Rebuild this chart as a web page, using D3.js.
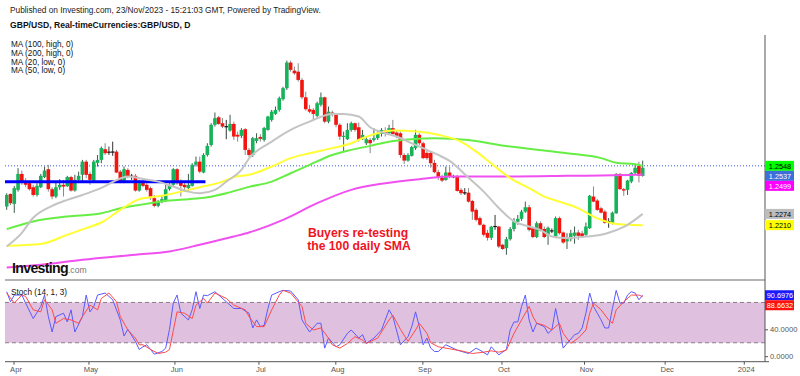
<!DOCTYPE html>
<html>
<head>
<meta charset="utf-8">
<script src="https://cdn.jsdelivr.net/npm/d3@7"></script>
<style>
  body { margin: 0; background: #fff; }
  svg { font-family: "Liberation Sans", Arial, sans-serif; }
</style>
</head>
<body>
<svg id="chart" width="800" height="376"></svg>
<script>
// daily GBP/USD candles, [open, high, low, close]
var ohlc = [
[1.2316,1.2392,1.2297,1.2382],[1.2388,1.2390,1.2325,1.2335],[1.2331,1.2434,1.2280,1.2421],[1.2411,1.2535,1.2401,1.2502],
[1.2502,1.2521,1.2440,1.2458],[1.2458,1.2478,1.2426,1.2440],[1.2449,1.2453,1.2407,1.2415],[1.2426,1.2440,1.2373,1.2382],
[1.2382,1.2449,1.2373,1.2434],[1.2426,1.2502,1.2421,1.2491],[1.2484,1.2544,1.2478,1.2521],[1.2529,1.2554,1.2401,1.2415],
[1.2415,1.2426,1.2358,1.2373],[1.2373,1.2453,1.2364,1.2426],[1.2426,1.2472,1.2411,1.2440],[1.2440,1.2468,1.2373,1.2430],
[1.2432,1.2491,1.2428,1.2484],[1.2484,1.2491,1.2401,1.2407],[1.2407,1.2497,1.2401,1.2468],[1.2468,1.2515,1.2458,1.2491],
[1.2497,1.2582,1.2458,1.2572],[1.2572,1.2582,1.2478,1.2497],[1.2502,1.2515,1.2440,1.2468],[1.2464,1.2582,1.2458,1.2572],
[1.2565,1.2610,1.2544,1.2582],[1.2582,1.2658,1.2563,1.2649],[1.2643,1.2677,1.2610,1.2620],[1.2625,1.2658,1.2610,1.2627],
[1.2625,1.2686,1.2605,1.2628],[1.2629,1.2639,1.2506,1.2510],[1.2515,1.2525,1.2449,1.2458],[1.2458,1.2544,1.2449,1.2529],
[1.2525,1.2535,1.2478,1.2487],[1.2487,1.2502,1.2468,1.2490],[1.2491,1.2502,1.2401,1.2407],[1.2407,1.2468,1.2401,1.2449],
[1.2453,1.2468,1.2426,1.2434],[1.2440,1.2449,1.2401,1.2411],[1.2421,1.2430,1.2354,1.2364],[1.2364,1.2382,1.2312,1.2320],
[1.2320,1.2354,1.2312,1.2344],[1.2344,1.2382,1.2335,1.2358],[1.2354,1.2440,1.2344,1.2415],[1.2415,1.2449,1.2407,1.2440],
[1.2440,1.2535,1.2430,1.2529],[1.2529,1.2535,1.2440,1.2449],[1.2458,1.2472,1.2373,1.2434],[1.2440,1.2458,1.2401,1.2426],
[1.2421,1.2502,1.2401,1.2440],[1.2434,1.2563,1.2430,1.2554],[1.2554,1.2601,1.2544,1.2572],[1.2572,1.2601,1.2506,1.2515],
[1.2510,1.2620,1.2506,1.2610],[1.2610,1.2677,1.2601,1.2662],[1.2667,1.2791,1.2658,1.2782],[1.2782,1.2852,1.2772,1.2820],
[1.2825,1.2833,1.2782,1.2787],[1.2791,1.2820,1.2763,1.2772],[1.2772,1.2810,1.2700,1.2770],[1.2749,1.2839,1.2743,1.2787],
[1.2787,1.2800,1.2696,1.2715],[1.2725,1.2743,1.2686,1.2715],[1.2719,1.2763,1.2706,1.2753],[1.2757,1.2763,1.2610,1.2639],
[1.2639,1.2650,1.2599,1.2610],[1.2610,1.2713,1.2599,1.2706],[1.2690,1.2734,1.2677,1.2706],[1.2713,1.2728,1.2686,1.2702],
[1.2696,1.2770,1.2686,1.2764],[1.2753,1.2833,1.2749,1.2829],[1.2810,1.2867,1.2800,1.2857],[1.2844,1.2886,1.2839,1.2867],
[1.2867,1.2943,1.2857,1.2934],[1.2928,1.2999,1.2920,1.2991],[1.2991,1.3148,1.2981,1.3137],[1.3137,1.3148,1.3085,1.3095],
[1.3091,1.3114,1.3067,1.3076],[1.3085,1.3133,1.3028,1.3038],[1.3038,1.3048,1.2928,1.2939],[1.2939,1.2971,1.2863,1.2871],
[1.2871,1.2896,1.2848,1.2857],[1.2867,1.2877,1.2810,1.2844],[1.2833,1.2914,1.2825,1.2905],[1.2896,1.2966,1.2886,1.2939],
[1.2939,1.2943,1.2791,1.2800],[1.2800,1.2886,1.2791,1.2857],[1.2852,1.2863,1.2829,1.2839],[1.2844,1.2848,1.2768,1.2782],
[1.2782,1.2791,1.2696,1.2715],[1.2713,1.2743,1.2629,1.2719],[1.2700,1.2791,1.2696,1.2753],[1.2753,1.2800,1.2743,1.2791],
[1.2791,1.2795,1.2743,1.2753],[1.2768,1.2795,1.2686,1.2696],[1.2700,1.2753,1.2696,1.2725],[1.2677,1.2715,1.2667,1.2700],
[1.2696,1.2706,1.2620,1.2677],[1.2696,1.2763,1.2686,1.2706],[1.2706,1.2753,1.2696,1.2734],[1.2730,1.2763,1.2715,1.2753],
[1.2749,1.2768,1.2715,1.2730],[1.2734,1.2782,1.2725,1.2763],[1.2763,1.2810,1.2725,1.2730],[1.2738,1.2749,1.2706,1.2715],
[1.2734,1.2743,1.2594,1.2610],[1.2610,1.2620,1.2559,1.2578],[1.2578,1.2620,1.2572,1.2610],[1.2605,1.2662,1.2601,1.2655],
[1.2649,1.2753,1.2639,1.2725],[1.2725,1.2734,1.2667,1.2677],[1.2677,1.2686,1.2586,1.2592],[1.2622,1.2639,1.2582,1.2592],
[1.2622,1.2629,1.2537,1.2563],[1.2565,1.2582,1.2506,1.2512],[1.2512,1.2525,1.2468,1.2480],[1.2480,1.2497,1.2455,1.2464],
[1.2468,1.2544,1.2463,1.2510],[1.2510,1.2544,1.2478,1.2487],[1.2487,1.2497,1.2478,1.2486],[1.2486,1.2497,1.2401,1.2405],
[1.2411,1.2421,1.2382,1.2392],[1.2393,1.2421,1.2382,1.2395],[1.2395,1.2421,1.2338,1.2344],[1.2348,1.2354,1.2240,1.2287],
[1.2297,1.2306,1.2231,1.2240],[1.2250,1.2259,1.2206,1.2212],[1.2212,1.2218,1.2145,1.2155],[1.2166,1.2183,1.2122,1.2138],
[1.2138,1.2206,1.2126,1.2201],[1.2201,1.2268,1.2183,1.2203],[1.2202,1.2206,1.2079,1.2088],[1.2098,1.2104,1.2069,1.2074],
[1.2079,1.2143,1.2041,1.2130],[1.2130,1.2199,1.2122,1.2188],[1.2188,1.2250,1.2174,1.2234],[1.2229,1.2268,1.2212,1.2246],
[1.2246,1.2297,1.2234,1.2287],[1.2287,1.2344,1.2280,1.2312],[1.2312,1.2325,1.2174,1.2183],[1.2193,1.2202,1.2136,1.2142],
[1.2142,1.2231,1.2136,1.2221],[1.2221,1.2231,1.2174,1.2179],[1.2188,1.2202,1.2136,1.2142],[1.2149,1.2202,1.2098,1.2195],
[1.2178,1.2191,1.2164,1.2176],[1.2145,1.2259,1.2136,1.2250],[1.2250,1.2259,1.2155,1.2164],[1.2168,1.2174,1.2104,1.2111],
[1.2117,1.2164,1.2074,1.2130],[1.2130,1.2183,1.2117,1.2164],[1.2149,1.2202,1.2104,1.2168],[1.2168,1.2183,1.2126,1.2149],
[1.2163,1.2178,1.2138,1.2146],[1.2155,1.2225,1.2145,1.2202],[1.2193,1.2382,1.2188,1.2377],[1.2373,1.2430,1.2341,1.2344],
[1.2350,1.2359,1.2291,1.2297],[1.2306,1.2314,1.2277,1.2281],[1.2287,1.2297,1.2218,1.2223],[1.2231,1.2250,1.2195,1.2229],
[1.2221,1.2287,1.2214,1.2281],[1.2278,1.2506,1.2274,1.2502],[1.2502,1.2506,1.2411,1.2415],[1.2415,1.2422,1.2377,1.2407],
[1.2411,1.2468,1.2382,1.2464],[1.2458,1.2512,1.2449,1.2508],[1.2508,1.2554,1.2497,1.2537],[1.2548,1.2572,1.2453,1.2491],
[1.2491,1.2578,1.2487,1.2537]
];

// moving averages, [bar, value]
var ma20low = [[0,1.2088],[4,1.2166],[7,1.2252],[12,1.2320],[16,1.2354],[20,1.2382],[25,1.2422],[28,1.2456],[32,1.2487],
  [36,1.2473],[40,1.2458],[44,1.2430],[48,1.2401],[51,1.2392],[55,1.2411],[58,1.2458],[62,1.2525],[64,1.2590],[70,1.2686],
  [75,1.2753],[80,1.2800],[86,1.2844],[89,1.2844],[93,1.2829],[96,1.2768],[100,1.2734],[103,1.2715],[107,1.2677],[110,1.2649],
  [114,1.2610],[117,1.2576],[122,1.2480],[126,1.2401],[130,1.2308],[134,1.2231],[138,1.2202],[141,1.2183],[144,1.2145],
  [148,1.2136],[153,1.2145],[157,1.2155],[160,1.2174],[164,1.2212],[168,1.2274]];
var ma50low = [[0,1.2093],[9,1.2103],[16,1.2155],[21,1.2193],[25,1.2225],[30,1.2297],[35,1.2358],[41,1.2377],[46,1.2401],
  [51,1.2426],[57,1.2458],[60,1.2484],[64,1.2497],[70,1.2544],[75,1.2592],[80,1.2620],[86,1.2649],[91,1.2677],[94,1.2706],
  [98,1.2734],[102,1.2749],[109,1.2743],[114,1.2725],[120,1.2686],[124,1.2629],[129,1.2544],[133,1.2478],[138,1.2421],
  [142,1.2373],[146,1.2344],[151,1.2306],[155,1.2259],[160,1.2221],[164,1.2212],[168,1.2210]];
var ma100high = [[0,1.2187],[7,1.2231],[16,1.2259],[25,1.2278],[30,1.2306],[35,1.2325],[43,1.2350],[48,1.2358],[53,1.2369],
  [58,1.2392],[64,1.2428],[70,1.2458],[75,1.2506],[80,1.2554],[86,1.2610],[91,1.2639],[96,1.2662],[101,1.2686],[107,1.2700],
  [113,1.2706],[122,1.2696],[130,1.2667],[139,1.2643],[148,1.2620],[157,1.2592],[161,1.2566],[166,1.2557],[168,1.2548]];
var ma200high = [[0,1.1968],[9,1.1984],[20,1.2012],[34,1.2041],[43,1.2060],[51,1.2098],[60,1.2145],[64,1.2168],[73,1.2240],
  [82,1.2335],[91,1.2411],[100,1.2449],[109,1.2472],[117,1.2487],[130,1.2487],[148,1.2491],[166,1.2497],[168,1.2499]];

// stochastic (14,1,3), [bar, value]
var stochK = [[0,96],[1,81],[2,91],[4,91],[5,79],[7,56],[9,74],[10,91],[11,59],[12,36],[13,59],[15,64],[16,51],[17,69],[18,36],
  [20,59],[21,91],[22,66],[23,74],[24,91],[26,94],[28,84],[30,54],[31,30],[32,40],[34,22],[35,10],[36,14],[37,17],[39,3],[41,7],
  [42,12],[43,40],[44,79],[45,91],[46,64],[48,54],[49,69],[50,96],[51,71],[52,91],[53,90],[55,96],[56,91],[58,81],[60,71],[62,71],
  [64,64],[65,42],[66,54],[67,44],[68,46],[69,71],[70,91],[72,96],[73,98],[75,97],[77,84],[78,54],[80,36],[82,49],[83,49],[84,12],
  [85,27],[87,14],[88,17],[90,34],[91,39],[93,27],[94,32],[95,19],[97,27],[99,39],[101,69],[102,59],[104,17],[106,29],[107,44],
  [108,66],[109,44],[110,17],[111,27],[112,12],[113,7],[114,7],[116,17],[119,9],[122,4],[124,12],[125,9],[127,2],[128,14],[130,2],
  [132,10],[133,39],[134,51],[135,51],[136,74],[137,91],[138,54],[139,36],[140,49],[142,44],[143,34],[144,39],[145,71],[146,44],
  [147,12],[148,19],[150,32],[151,34],[152,42],[153,64],[154,94],[155,74],[156,64],[157,54],[158,42],[159,42],[160,71],[161,98],
  [162,79],[163,79],[164,91],[165,96],[166,94],[167,84],[168,90.6976]];
var stochD = [[0,94],[2,79],[4,91],[5,89],[7,69],[9,66],[10,84],[12,69],[13,49],[15,56],[17,54],[19,49],[20,59],[22,76],[24,69],
  [25,86],[27,94],[29,81],[30,59],[32,39],[34,27],[35,17],[36,17],[38,10],[40,4],[42,6],[43,10],[44,38],[45,66],[47,64],[49,56],
  [50,76],[52,86],[53,79],[55,94],[58,86],[60,76],[63,69],[64,59],[66,44],[68,44],[70,69],[72,91],[73,98],[75,94],[78,74],[79,49],
  [81,39],[83,42],[85,27],[86,17],[88,12],[90,19],[92,29],[94,24],[95,19],[98,27],[101,54],[102,61],[104,40],[106,22],[108,39],
  [109,49],[111,34],[112,20],[114,14],[117,11],[120,8],[123,4],[126,6],[128,8],[130,6],[132,9],[134,34],[136,54],[138,74],
  [139,59],[140,49],[142,46],[144,39],[146,49],[147,34],[149,19],[151,27],[153,39],[154,64],[155,79],[157,69],[159,54],[160,49],
  [161,69],[163,81],[165,91],[167,91],[168,88.6632]];

// horizontal levels
var supportLevel = 1.2457, supportBars = [-2, 52.5];
var lastPriceLine = 1.2548;

// axis ticks (1.2500, 1.2200 and 80 sit under the value tags)
var priceTicks = [1.19,1.20,1.21,1.23,1.24,1.26,1.27,1.28,1.29,1.30,1.31,1.32];
var stochTicks = [0, 40];
var monthLabels = ["Apr","May","Jun","Jul","Aug","Sep","Oct","Nov","Dec","2024"];
var monthBars = [1.8, 21.6, 44.3, 66.5, 86.8, 109.8, 130.7, 152.5, 173.8, 194.7];

// last-value tags on the price scale
var priceTags = [
  {v: 1.2548, bg: "#00ff00", fg: "#000"},
  {v: 1.2537, bg: "#3d6fd8", fg: "#fff"},
  {v: 1.2499, bg: "#ff00ff", fg: "#fff"},
  {v: 1.2274, bg: "#bdbdbd", fg: "#000"},
  {v: 1.2210, bg: "#ffff00", fg: "#000"}
];
var stochTags = [
  {v: 90.6976, bg: "#1a1aff", fg: "#fff"},
  {v: 88.6632, bg: "#ff1010", fg: "#fff"}
];

var legend = ["MA (100, high, 0)", "MA (200, high, 0)", "MA (20, low, 0)", "MA (50, low, 0)"];

var left = 5, right = 765, paneTop = 35, paneBottom = 280, stochBottom = 361.7;

var x = d3.scaleLinear().domain([0, 168]).range([6.7, 642.7]);
var y = d3.scaleLinear().domain([1.19, 1.32]).range([279.5, 51.5]);
var ys = d3.scaleLinear().domain([0, 100]).range([356.2, 289]);

var svg = d3.select("#chart");

svg.append("defs").append("clipPath").attr("id", "mainClip")
  .append("rect").attr("x", left).attr("y", paneTop).attr("width", right - left).attr("height", paneBottom - paneTop);
svg.select("defs").append("clipPath").attr("id", "stochClip")
  .append("rect").attr("x", left).attr("y", paneBottom + 1).attr("width", right - left).attr("height", stochBottom - paneBottom - 1);
svg.select("defs").append("clipPath").attr("id", "axisClip")
  .append("rect").attr("x", right).attr("y", paneTop).attr("width", 35).attr("height", paneBottom - paneTop);

// header texts
svg.append("text").attr("x", 10).attr("y", 13).attr("font-size", 8.3).attr("fill", "#222")
  .text("Published on Investing.com, 23/Nov/2023 - 15:21:03 GMT, Powered by TradingView.");
svg.append("text").attr("x", 10).attr("y", 28).attr("font-size", 8.6).attr("font-weight", "bold").attr("fill", "#111")
  .text("GBP/USD, Real-timeCurrencies:GBP/USD, D");

var main = svg.append("g").attr("clip-path", "url(#mainClip)");

// dotted price line
main.append("line")
  .attr("x1", left).attr("x2", right).attr("y1", y(lastPriceLine)).attr("y2", y(lastPriceLine))
  .attr("stroke", "#3355dd").attr("stroke-width", 1).attr("stroke-dasharray", "1,2");

// candles
var candles = main.append("g");
ohlc.forEach(function(d, i) {
  var o = d[0], h = d[1], l = d[2], c = d[3];
  var doji = Math.abs(c - o) < 0.0004;
  var up = c >= o;
  candles.append("line")
    .attr("x1", x(i)).attr("x2", x(i)).attr("y1", y(h)).attr("y2", y(l))
    .attr("stroke", doji ? "#333" : (up ? "#3d5c4a" : "#8a8a8a")).attr("stroke-width", 1);
  if (doji) {
    candles.append("rect").attr("x", x(i) - 1.8).attr("width", 3.6)
      .attr("y", y((o + c) / 2) - 0.6).attr("height", 1.2).attr("fill", "#111");
  } else {
    candles.append("rect").attr("x", x(i) - 1.8).attr("width", 3.6)
      .attr("y", y(Math.max(o, c))).attr("height", Math.max(1, y(Math.min(o, c)) - y(Math.max(o, c))))
      .attr("fill", up ? "#17b35b" : "#f2140f");
  }
});

// blue support line
main.append("line")
  .attr("x1", x(supportBars[0])).attr("x2", x(supportBars[1]))
  .attr("y1", y(supportLevel)).attr("y2", y(supportLevel))
  .attr("stroke", "#0000ff").attr("stroke-width", 3);

// moving averages
var maLine = d3.line().x(function(d) { return x(d[0]); }).y(function(d) { return y(d[1]); }).curve(d3.curveMonotoneX);
[[ma200high, "#f050f0"], [ma100high, "#66ee44"], [ma50low, "#ffff33"], [ma20low, "#c4c4c4"]].forEach(function(m) {
  main.append("path").datum(m[0]).attr("d", maLine)
    .attr("fill", "none").attr("stroke", m[1]).attr("stroke-width", 2);
});

// annotation
var note = svg.append("text").attr("font-size", 12.2).attr("font-weight", "bold").attr("fill", "#f0141e")
  .attr("text-anchor", "middle");
note.append("tspan").attr("x", 358).attr("y", 236.5).text("Buyers re-testing");
note.append("tspan").attr("x", 359).attr("y", 249.5).text("the 100 daily SMA");

// legend
legend.forEach(function(t, i) {
  svg.append("text").attr("x", 11).attr("y", 47.3 + i * 8.6).attr("font-size", 8.2).attr("fill", "#111").text(t);
});

// logo
var logo = svg.append("text").attr("x", 12).attr("y", 273);
logo.append("tspan").attr("font-size", 14.2).attr("font-weight", "bold").attr("letter-spacing", -0.7).attr("fill", "#111").text("Investing");
logo.append("tspan").attr("font-size", 8.6).attr("fill", "#777").text(".com");

// pane separator
svg.append("line").attr("x1", left).attr("x2", right).attr("y1", paneBottom).attr("y2", paneBottom)
  .attr("stroke", "#b4b4b4").attr("stroke-width", 2);

// stochastic pane
var st = svg.append("g").attr("clip-path", "url(#stochClip)");
st.append("rect").attr("x", left).attr("width", right - left)
  .attr("y", ys(80)).attr("height", ys(20) - ys(80)).attr("fill", "#dfc1df");
[80, 20].forEach(function(v) {
  st.append("line").attr("x1", left).attr("x2", right).attr("y1", ys(v)).attr("y2", ys(v))
    .attr("stroke", "#8c7c8c").attr("stroke-width", 1).attr("stroke-dasharray", "4,3");
});
var stLine = d3.line().x(function(d) { return x(d[0]); }).y(function(d) { return ys(d[1]); });
st.append("path").datum(stochK).attr("d", stLine).attr("fill", "none").attr("stroke", "#5a5aff").attr("stroke-width", 1);
st.append("path").datum(stochD).attr("d", stLine).attr("fill", "none").attr("stroke", "#ff4a4a").attr("stroke-width", 1);
svg.append("text").attr("x", 11).attr("y", 294.5).attr("font-size", 8.2).attr("fill", "#111").text("Stoch (14, 1, 3)");

// axes
var yAxis = d3.axisRight(y).tickValues(priceTicks).tickFormat(d3.format(".4f")).tickSize(3).tickPadding(2);
var ya = svg.append("g").attr("transform", "translate(" + right + ",0)").attr("clip-path", "url(#axisClip)").call(yAxis);
var sAxis = d3.axisRight(ys).tickValues(stochTicks).tickFormat(d3.format(".4f")).tickSize(3).tickPadding(2);
var sa = svg.append("g").attr("transform", "translate(" + right + ",0)").call(sAxis);
var xAxis = d3.axisBottom(x).tickValues(monthBars).tickFormat(function(d, i) { return monthLabels[i]; }).tickSize(3).tickPadding(2);
var xa = svg.append("g").attr("transform", "translate(0," + stochBottom + ")").call(xAxis);
[ya, sa, xa].forEach(function(g) {
  g.select(".domain").remove();
  g.selectAll(".tick line").attr("stroke", "#555");
  g.selectAll(".tick text").attr("fill", "#555").attr("font-size", 7.6)
    .attr("font-family", "'Liberation Sans', Arial, sans-serif");
});
xa.selectAll(".tick text").attr("dx", 2);

svg.append("line").attr("x1", right).attr("x2", right).attr("y1", paneTop).attr("y2", stochBottom)
  .attr("stroke", "#555").attr("stroke-width", 1);
svg.append("line").attr("x1", left).attr("x2", right + 4).attr("y1", stochBottom).attr("y2", stochBottom)
  .attr("stroke", "#555").attr("stroke-width", 1);

// value tags, pushed apart when they overlap
function drawTags(tags, scale) {
  var prev = -Infinity;
  tags.slice().sort(function(a, b) { return scale(a.v) - scale(b.v); }).forEach(function(t) {
    var cy = Math.max(scale(t.v), prev + 10);
    prev = cy;
    svg.append("rect").attr("x", right).attr("y", cy - 5).attr("width", 29).attr("height", 10).attr("fill", t.bg);
    svg.append("text").attr("x", right + 15).attr("y", cy + 2.7).attr("text-anchor", "middle")
      .attr("font-size", 7.3).attr("fill", t.fg).text(t.v.toFixed(4));
  });
}
drawTags(priceTags, y);
drawTags(stochTags, ys);
</script>
</body>
</html>
